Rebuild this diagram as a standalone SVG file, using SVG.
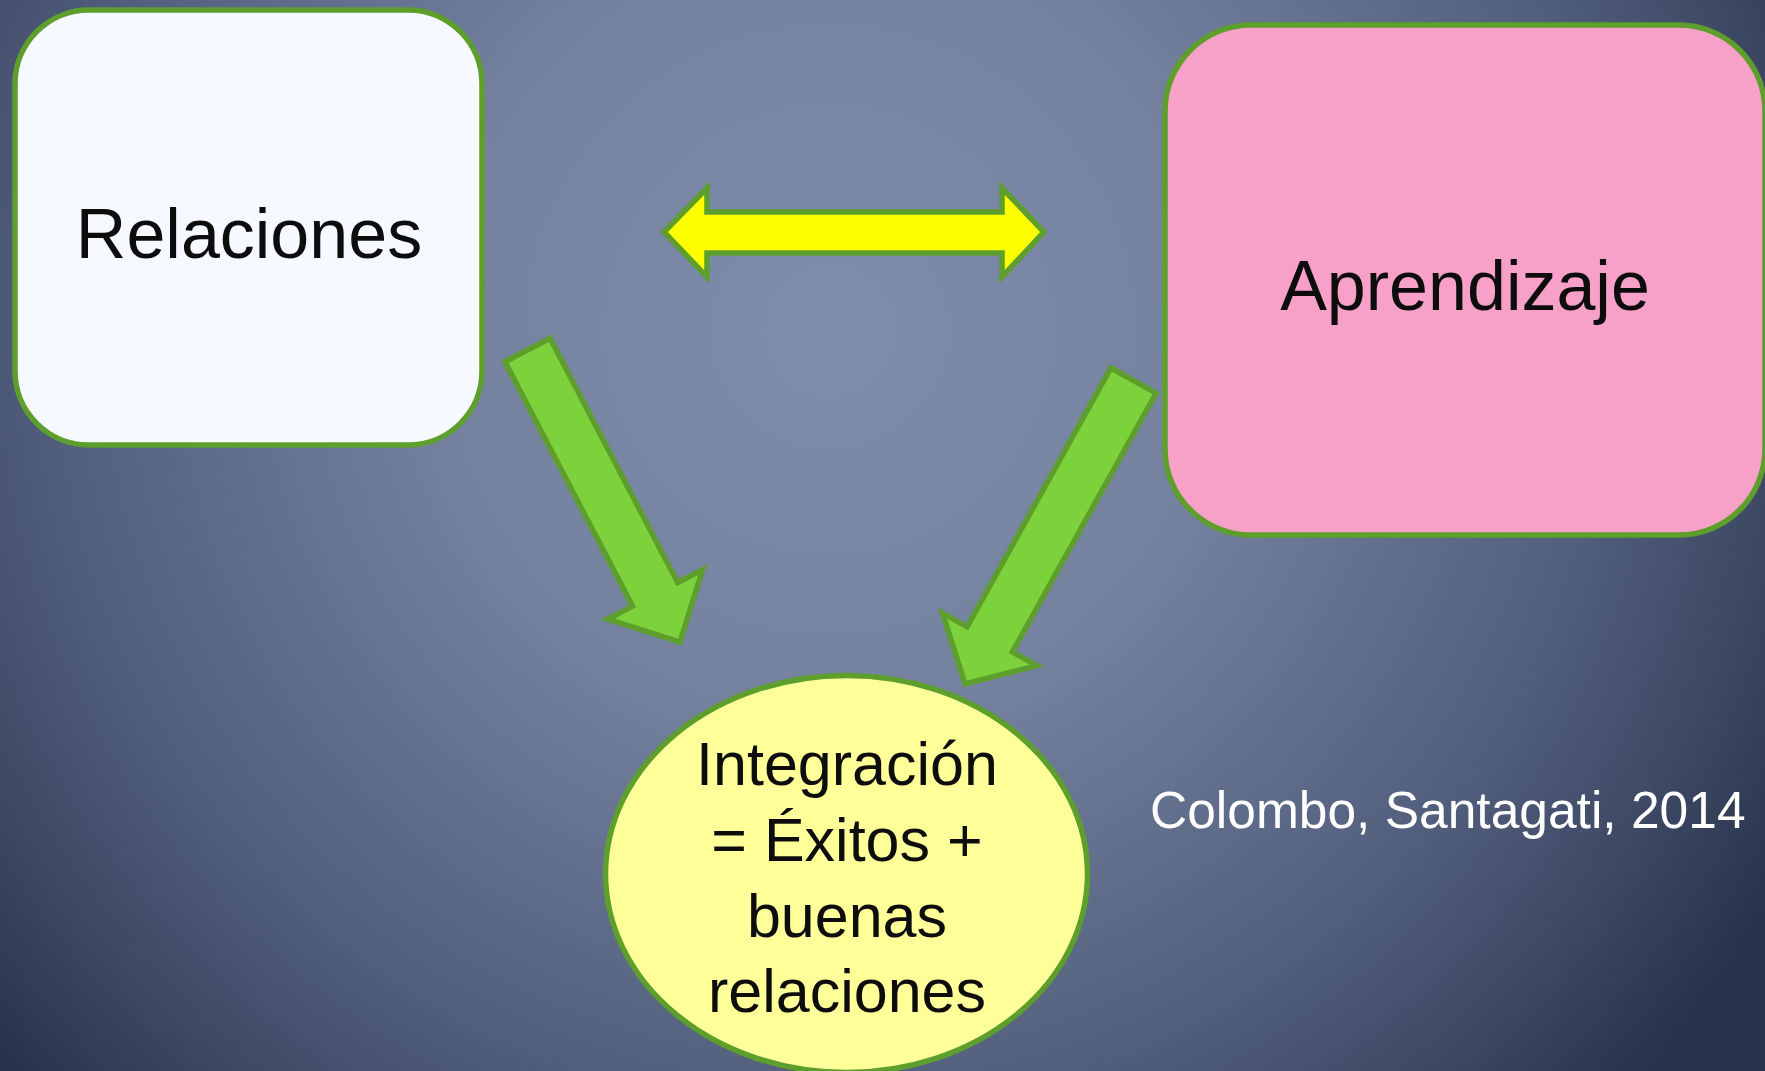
<svg xmlns="http://www.w3.org/2000/svg" width="1765" height="1071" viewBox="0 0 1765 1071">
<defs>
<radialGradient id="bg" gradientUnits="userSpaceOnUse" cx="830" cy="330" r="1110">
<stop offset="0" stop-color="#7e8dac"/>
<stop offset="0.35" stop-color="#74829f"/>
<stop offset="0.7" stop-color="#515e7c"/>
<stop offset="0.85" stop-color="#3e4965"/>
<stop offset="1" stop-color="#27314b"/>
</radialGradient>
<style>
.box{stroke:#5e9e2c;stroke-width:5.5}
.arrow{fill:#7dd13b;stroke:#5e9e2c;stroke-width:5.5;stroke-linejoin:miter}
.lbl{font-family:"Liberation Sans",Arial,sans-serif;fill:#0d0d0d;text-anchor:middle}
</style>
</defs>
<rect width="1765" height="1071" fill="url(#bg)"/>
<g id="connectors">
<polygon points="664,232 707,188 707,212 1002,212 1002,188 1044,232 1002,277 1002,253 707,253 707,277" fill="#ffff00" stroke="#5e9e2c" stroke-width="5.5"/>
<polygon class="arrow" points="504.9,361.8 550.1,338.2 677.7,582.6 702.6,569.6 680,642 607.6,619.2 632.5,606.2"/>
<polygon class="arrow" points="1110.8,367.9 1156.2,393.1 1012.5,652 1037,665.6 965,684 942.6,613.2 967.1,626.8"/>
</g>
<g id="node-relaciones">
<rect class="box" x="15" y="10" width="467" height="435" rx="74" ry="74" fill="#f6f9ff"/>
<text class="lbl" x="249" y="258" font-size="70">Relaciones</text>
</g>
<g id="node-aprendizaje">
<rect class="box" x="1165" y="25" width="600" height="510" rx="86" ry="86" fill="#f7a0c8"/>
<text class="lbl" x="1465" y="310" font-size="70">Aprendizaje</text>
</g>
<g id="node-integracion">
<ellipse class="box" cx="846.5" cy="874" rx="241" ry="198.5" fill="#ffff99"/>
<text class="lbl" font-size="61"><tspan x="847" y="785">Integración</tspan><tspan x="847" y="861">= Éxitos +</tspan><tspan x="847" y="937">buenas</tspan><tspan x="847" y="1012">relaciones</tspan></text>
</g>
<text x="1150" y="828" font-family="Liberation Sans, Arial, sans-serif" font-size="51.5" fill="#ffffff">Colombo, Santagati, 2014</text>
</svg>
